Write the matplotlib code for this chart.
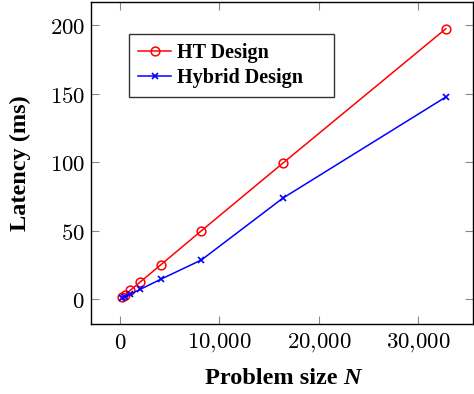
import matplotlib
matplotlib.use("Agg")
import matplotlib.pyplot as plt
from matplotlib.ticker import FuncFormatter, FixedLocator

# Data
problem_size = [256, 512, 1024, 2048, 4096, 8192, 16384, 32768]
ht_latency = [1.6, 3.2, 6.5, 12.7, 25.1, 50.0, 99.3, 197.3]
hybrid_latency = [1.0, 1.9, 3.7, 7.3, 14.6, 28.7, 73.8, 147.5]
series_labels = ["HT Design", "Hybrid Design"]
x_ticks = [0, 10000, 20000, 30000]
y_ticks = [0, 50, 100, 150, 200]

plt.rcParams['mathtext.fontset'] = 'cm'

W, H = 474, 394
fig = plt.figure(figsize=(W / 100, H / 100), dpi=100)
left, right, bottom, top = 90.5, 473, 324.3, 1.7
ax = fig.add_axes([left / W, 1 - bottom / H, (right - left) / W, (bottom - top) / H])

ax.plot(problem_size, ht_latency, color='red', lw=1.1, marker='o', ms=6.3,
        mfc='none', mec='red', mew=1.1, label=series_labels[0])
ax.plot(problem_size, hybrid_latency, color='blue', lw=1.1, marker='x', ms=4.5,
        mec='blue', mew=1.2, label=series_labels[1])

ax.set_xlim(-2960, 35500)
ax.set_ylim(-18.2, 217)

ax.xaxis.set_major_locator(FixedLocator(x_ticks))
ax.yaxis.set_major_locator(FixedLocator(y_ticks))

def fmt(v, pos):
    s = f"{int(round(v)):,}".replace(",", "{,}")
    return f"${s}$"

ax.xaxis.set_major_formatter(FuncFormatter(fmt))
ax.yaxis.set_major_formatter(FuncFormatter(fmt))

ax.tick_params(axis='both', which='major', direction='in', length=6, width=0.8,
               color='#888888', labelsize=16.5, top=True, right=True)
ax.tick_params(axis='x', pad=5)
ax.tick_params(axis='y', pad=4)

for sp in ax.spines.values():
    sp.set_linewidth(1.0)
    sp.set_color('black')

serif = ['Liberation Serif', 'DejaVu Serif']
ax.set_ylabel("Latency (ms)", fontsize=17.5, fontweight='bold', family=serif, labelpad=13)

# x label: "Problem size" bold + "N" bold italic
fig.canvas.draw()
renderer = fig.canvas.get_renderer()
t1 = fig.text(0, 1 - 378 / H, "Problem size ", fontsize=17.5, fontweight='bold',
              family=serif, ha='left', va='center')
t2 = fig.text(0, 1 - 378 / H, "N", fontsize=17.5, fontweight='bold', style='italic',
              family=serif, ha='left', va='center')
w1 = t1.get_window_extent(renderer).width
w2 = t2.get_window_extent(renderer).width
cx = 283.0
x0 = cx - (w1 + w2) / 2
t1.set_x(x0 / W)
t2.set_x((x0 + w1) / W)

leg = ax.legend(loc='upper left',
                bbox_to_anchor=(129 / W, 1 - 93.5 / H, (333.5 - 129) / W, (93.5 - 34) / H),
                bbox_transform=fig.transFigure, borderaxespad=0, mode='expand',
                prop={'family': serif, 'weight': 'bold', 'size': 14.5},
                frameon=True, fancybox=False, edgecolor='black',
                handlelength=1.65, handletextpad=0.3, borderpad=0.45,
                labelspacing=0.25)
leg.get_frame().set_linewidth(1.0)

fig.savefig("out.png", dpi=100)
